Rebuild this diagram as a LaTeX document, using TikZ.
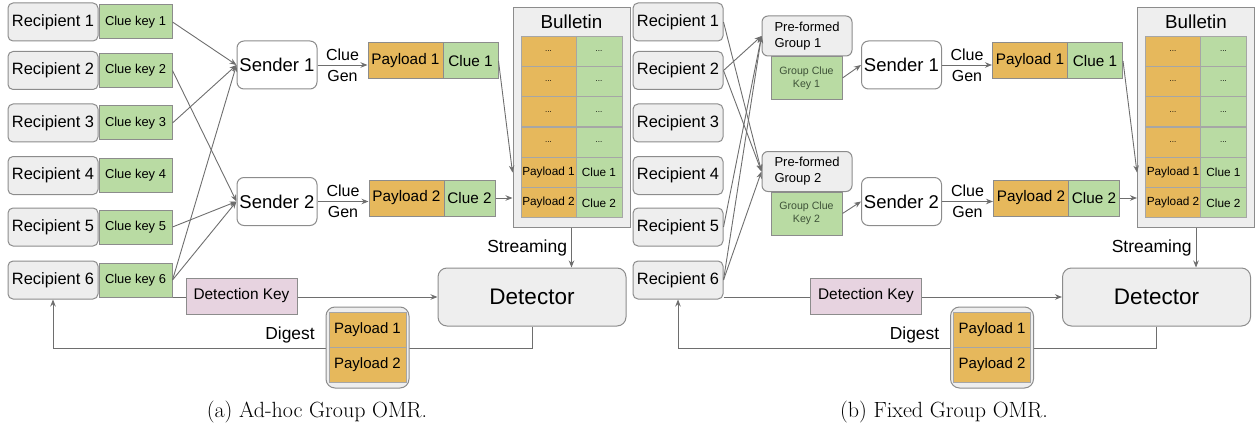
\documentclass[tikz,border=0pt]{standalone}
\usepackage{fontspec}
\newfontfamily\arialf{Liberation Sans}
\usetikzlibrary{arrows.meta}
\definecolor{boxgray}{HTML}{EEEEEE}
\definecolor{linegray}{HTML}{8C8C8C}
\definecolor{cellgray}{HTML}{A6A6A6}
\definecolor{arrowgray}{HTML}{6E6E6E}
\definecolor{cluegreen}{HTML}{B9DBA3}
\definecolor{payorange}{HTML}{E6B85C}
\definecolor{detpink}{HTML}{E7D3E0}
\definecolor{keytext}{HTML}{3E5238}
\newcommand\fsz[2]{\arialf\fontsize{#1}{#2}\selectfont}
\tikzset{
 base/.style={draw=linegray, line width=1pt, inner sep=0pt, text=black},
 recip/.style={base, fill=boxgray, rounded corners=5pt, minimum width=90pt, minimum height=38pt, font=\fsz{16.4}{19}},
 ckey/.style={base, fill=cluegreen, minimum width=73pt, minimum height=34pt, font=\fsz{12.9}{15}},
 sender/.style={base, fill=white, rounded corners=7pt, minimum width=80pt, minimum height=48pt, font=\fsz{18.5}{22}},
 paybox/.style={base, fill=payorange, minimum width=75pt, minimum height=36pt, font=\fsz{15.3}{18}},
 cluebox/.style={base, fill=cluegreen, minimum height=36pt, font=\fsz{15.3}{18}},
 bull/.style={base, fill=boxgray, minimum width=117pt, minimum height=219pt},
 tpay/.style={base, draw=cellgray, fill=payorange, minimum width=55pt, minimum height=30.33pt, font=\fsz{11.8}{14}},
 tclue/.style={base, draw=cellgray, fill=cluegreen, minimum width=46pt, minimum height=30.33pt, font=\fsz{11.8}{14}},
 det/.style={base, fill=boxgray, rounded corners=9pt, minimum width=188pt, minimum height=58pt, font=\fsz{22.5}{27}},
 detkey/.style={base, fill=detpink, minimum width=111pt, minimum height=36pt, font=\fsz{15.4}{18}},
 digbox/.style={base, fill=boxgray, rounded corners=9pt, minimum width=83pt, minimum height=81pt},
 digpay/.style={base, draw=cellgray, fill=payorange, minimum width=77pt, minimum height=35pt, font=\fsz{15}{18}},
 group/.style={base, fill=boxgray, rounded corners=6pt, minimum width=90pt, minimum height=40pt, align=left, font=\fsz{13}{16}},
 gkey/.style={base, fill=cluegreen, minimum width=71pt, minimum height=43pt, align=center, text=keytext, font=\fsz{10.6}{12.7}},
 lbl/.style={inner sep=0pt, text=black, font=\fsz{16}{19}},
 arr/.style={draw=arrowgray, line width=0.9pt, -{Stealth[length=7pt,width=5.5pt]}},
 plain/.style={draw=arrowgray, line width=0.9pt},
 captxt/.style={inner sep=0pt, font=\rmfamily\fontsize{22}{26}\selectfont},
}
% #1 = name prefix, #2 = node whose right edge starts the detection-key line
\newcommand\omrright[2]{%
 \node[sender] (#1s1) at (277,65) {Sender 1};
 \node[sender] (#1s2) at (277,201.5) {Sender 2};
 \node[paybox] (#1p1) at (405.5,61) {Payload 1};
 \node[cluebox, minimum width=55pt] (#1c1) at (470.5,61) {Clue 1};
 \node[paybox] (#1p2) at (406.5,198) {Payload 2};
 \node[cluebox, minimum width=51pt] (#1c2) at (469.5,198) {Clue 2};
 \draw[arr] (#1s1.east) -- node[lbl, above=4pt] {Clue} node[lbl, below=4.5pt] {Gen} (#1s1.east -| #1p1.west);
 \draw[arr] (#1s2.east) -- node[lbl, above=4pt] {Clue} node[lbl, below=4.5pt] {Gen} (#1s2.east -| #1p2.west);
 \node[bull] (#1bul) at (571.5,117.5) {};
 \node[lbl, font=\fsz{18.8}{22}] (#1bt) at (571.5,22) {Bulletin};
 \node[tpay] (#1tp1) at (548.5,51.17) {\fsz{8}{9}...};
 \node[tclue] (#1tc1) at (599,51.17) {\fsz{8}{9}...};
 \node[tpay] (#1tp2) at (548.5,81.5) {\fsz{8}{9}...};
 \node[tclue] (#1tc2) at (599,81.5) {\fsz{8}{9}...};
 \node[tpay] (#1tp3) at (548.5,111.83) {\fsz{8}{9}...};
 \node[tclue] (#1tc3) at (599,111.83) {\fsz{8}{9}...};
 \node[tpay] (#1tp4) at (548.5,142.17) {\fsz{8}{9}...};
 \node[tclue] (#1tc4) at (599,142.17) {\fsz{8}{9}...};
 \node[tpay] (#1tp5) at (548.5,172.5) {Payload 1};
 \node[tclue] (#1tc5) at (599,172.5) {Clue 1};
 \node[tpay] (#1tp6) at (548.5,202.83) {Payload 2};
 \node[tclue] (#1tc6) at (599,202.83) {Clue 2};
 \draw[arr] (#1c1.east) -- (#1tp5.west -| #1bul.west);
 \draw[arr] (#1c2.east) -- (#1c2.east -| #1bul.west);
 \node[det] (#1det) at (532,297) {Detector};
 \draw[arr] (#1bul.south) -- node[lbl, left=4pt, font=\fsz{17.5}{21}] {Streaming} (#1bul.south |- #1det.north);
 \node[detkey] (#1dk) at (241.5,296) {Detection Key};
 \draw[plain] (#2.east |- #1det.west) -- (#1dk.west |- #1det.west);
 \draw[arr] (#1dk.east |- #1det.west) -- (#1det.west);
 \coordinate (#1dgc) at (367.5,348);
 \draw[arr] (#1det.south) -- (#1det.south |- #1dgc) -- (#1r6.south |- #1dgc) -- (#1r6.south);
 \node[digbox] (#1dg) at (367.5,347.5) {};
 \node[digpay] (#1dp1) at (367.5,330) {Payload 1};
 \node[digpay] (#1dp2) at (367.5,365) {Payload 2};
 \node[lbl, font=\fsz{17.4}{21}] (#1dl) at (290,335) {Digest};
}
\begin{document}
\begin{tikzpicture}[x=1pt,y=-1pt]
\useasboundingbox (0,0) rectangle (1255,425);
% ---------- panel (a) ----------
\node[recip] (ar1) at (53,22) {Recipient 1};
\node[recip] (ar2) at (53,70.5) {Recipient 2};
\node[recip] (ar3) at (53,123) {Recipient 3};
\node[recip] (ar4) at (53,175.5) {Recipient 4};
\node[recip] (ar5) at (53,227) {Recipient 5};
\node[recip] (ar6) at (53,280) {Recipient 6};
\node[ckey] (ak1) at (135.5,22) {Clue key 1};
\node[ckey] (ak2) at (135.5,70.5) {Clue key 2};
\node[ckey] (ak3) at (135.5,123) {Clue key 3};
\node[ckey] (ak4) at (135.5,175.5) {Clue key 4};
\node[ckey] (ak5) at (135.5,227) {Clue key 5};
\node[ckey] (ak6) at (135.5,280) {Clue key 6};
\begin{scope}
\omrright{a}{ak6}
\end{scope}
\draw[arr] (ak1.east) -- (as1.west);
\draw[arr] (ak2.east) -- (as2.west);
\draw[arr] (ak3.east) -- (as1.west);
\draw[arr] (ak5.east) -- (as2.west);
\draw[arr] (ak6.east) -- (as1.west);
\draw[arr] (ak6.east) -- (as2.west);
\node[captxt] (capa) at (317,412) {(a) Ad-hoc Group OMR.};
% ---------- panel (b) ----------
\node[recip] (br1) at (678,22) {Recipient 1};
\node[recip] (br2) at (678,70.5) {Recipient 2};
\node[recip] (br3) at (678,123) {Recipient 3};
\node[recip] (br4) at (678,175.5) {Recipient 4};
\node[recip] (br5) at (678,227) {Recipient 5};
\node[recip] (br6) at (678,280) {Recipient 6};
\node[group] (bg1) at (807,36) {Pre-formed\\Group 1};
\node[gkey] (bk1) at (806.5,78) {Group Clue\\Key 1};
\node[group] (bg2) at (807,171.5) {Pre-formed\\Group 2};
\node[gkey] (bk2) at (806.5,213.5) {Group Clue\\Key 2};
\begin{scope}[xshift=624.5pt]
\omrright{b}{br6}
\end{scope}
\draw[arr] (br1.east) -- (bg2.west);
\draw[arr] (br2.east) -- (bg1.west);
\draw[arr] (br2.east) -- (bg2.west);
\draw[arr] (br5.east) -- (bg1.west);
\draw[arr] (br6.east) -- (bg1.west);
\draw[arr] (br6.east) -- (bg2.west);
\draw[arr] (bk1.east) -- (bs1.west);
\draw[arr] (bk2.east) -- (bs2.west);
\node[captxt] (capb) at (944,412) {(b) Fixed Group OMR.};
\end{tikzpicture}
\end{document}
